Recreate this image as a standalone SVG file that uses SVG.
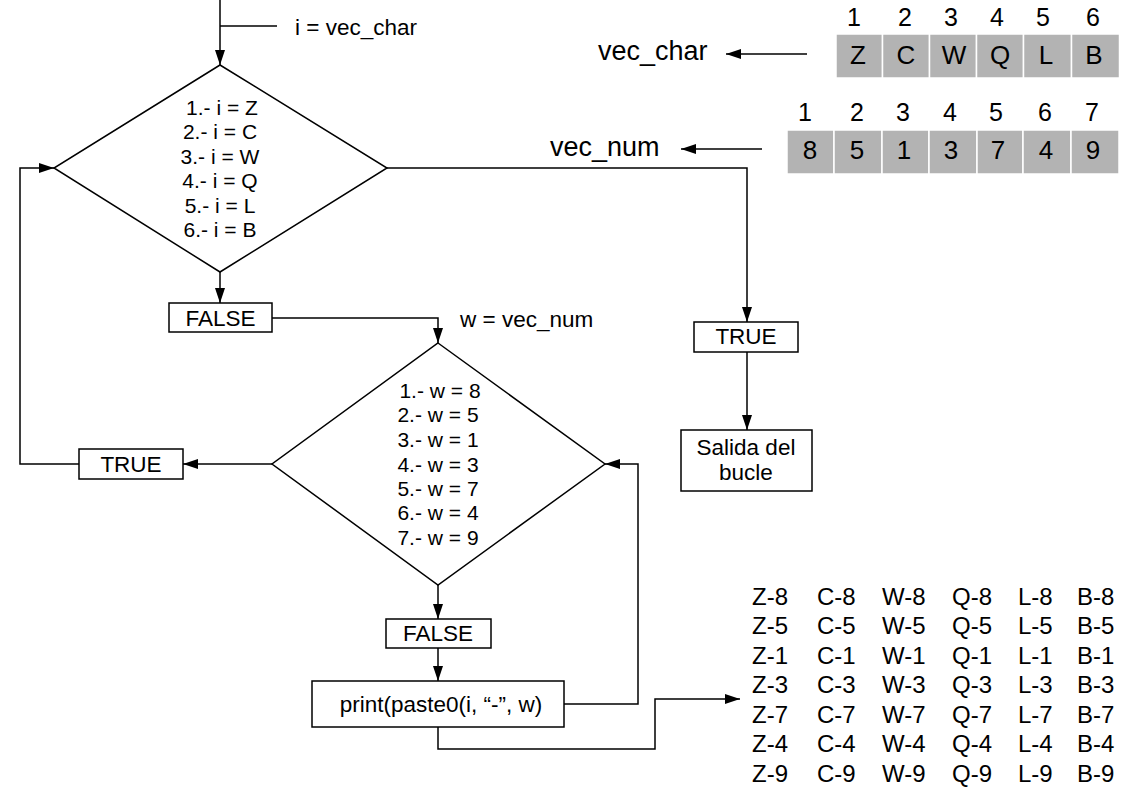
<svg xmlns="http://www.w3.org/2000/svg" width="1123" height="794" viewBox="0 0 1123 794">
<defs>
<marker id="ah" viewBox="0 0 15 10" refX="15" refY="5" markerWidth="15" markerHeight="10" markerUnits="userSpaceOnUse" orient="auto">
<path d="M0,0 L15,5 L0,10 Z" fill="#000"/>
</marker>
<style>
text{font-family:"Liberation Sans",Arial,sans-serif;fill:#000}
.box{fill:#fff;stroke:#000;stroke-width:1.5}
.dia{fill:#fff;stroke:#000;stroke-width:1.5}
.ln{fill:none;stroke:#000;stroke-width:1.5}
.arr{fill:none;stroke:#000;stroke-width:1.5;marker-end:url(#ah)}
.cell{fill:#b3b3b3;stroke:#fff;stroke-width:1.5}
.lbl{font-size:22.5px}
.dt{font-size:21px;text-anchor:middle}
.mid{text-anchor:middle}
.big{font-size:27px}
.ct{font-size:26px;text-anchor:middle}
.ix{font-size:25px;text-anchor:middle}
.out{font-size:24px}
</style>
</defs>
<rect width="1123" height="794" fill="#fff"/>

<g id="connectors">
<path class="arr" d="M220,0 L220,65"/>
<path class="ln" d="M220,26 L277,26"/>
<path class="arr" d="M220,272 L220,303"/>
<path class="arr" d="M272,318 L438,318 L438,343"/>
<path class="arr" d="M272,464 L183,464"/>
<path class="arr" d="M79,464 L20,464 L20,168 L54,168"/>
<path class="arr" d="M438,585 L438,619"/>
<path class="arr" d="M438,648 L438,681"/>
<path class="arr" d="M564,704 L638,704 L638,464 L605,464"/>
<path class="arr" d="M438,727 L438,749 L655,749 L655,699 L740,699"/>
<path class="arr" d="M387,168 L747,168 L747,322"/>
<path class="arr" d="M747,352 L747,430"/>
<path class="arr" d="M807,54 L726,54"/>
<path class="arr" d="M762,149 L681,149"/>
</g>

<g id="label-i">
<text class="lbl" x="295" y="35">i = vec_char</text>
</g>

<g id="diamond1">
<polygon class="dia" points="220,65 387,168 220,272 54,168"/>
<text class="dt" x="222" y="115">1.- i = Z</text>
<text class="dt" x="220" y="139">2.- i = C</text>
<text class="dt" x="220" y="164">3.- i = W</text>
<text class="dt" x="220" y="188">4.- i = Q</text>
<text class="dt" x="220" y="213">5.- i = L</text>
<text class="dt" x="220" y="237">6.- i = B</text>
</g>

<g id="false1">
<rect class="box" x="169" y="303" width="103" height="29"/>
<text class="lbl mid" x="220.5" y="326">FALSE</text>
</g>

<g id="label-w">
<text class="lbl" x="460" y="327">w = vec_num</text>
</g>

<g id="diamond2">
<polygon class="dia" points="438,343 605,464 438,585 272,464"/>
<text class="dt" x="440" y="398">1.- w = 8</text>
<text class="dt" x="438" y="422">2.- w = 5</text>
<text class="dt" x="438" y="447">3.- w = 1</text>
<text class="dt" x="438" y="472">4.- w = 3</text>
<text class="dt" x="438" y="496">5.- w = 7</text>
<text class="dt" x="438" y="520">6.- w = 4</text>
<text class="dt" x="438" y="545">7.- w = 9</text>
</g>

<g id="true-left">
<rect class="box" x="79" y="449" width="104" height="30"/>
<text class="lbl mid" x="131" y="472">TRUE</text>
</g>

<g id="false2">
<rect class="box" x="386" y="619" width="105" height="29"/>
<text class="lbl mid" x="438" y="641">FALSE</text>
</g>

<g id="print">
<rect class="box" x="312" y="681" width="252" height="46"/>
<text class="lbl mid" x="441" y="712">print(paste0(i, “-”, w)</text>
</g>

<g id="true-right">
<rect class="box" x="694" y="322" width="104" height="30"/>
<text class="lbl mid" x="746" y="344">TRUE</text>
</g>

<g id="salida">
<rect class="box" x="681" y="430" width="131" height="61"/>
<text class="lbl mid" x="746" y="455">Salida del</text>
<text class="lbl mid" x="746" y="480">bucle</text>
</g>

<g id="vec_char">
<text class="big" x="598" y="60">vec_char</text>
<rect class="cell" x="836" y="34" width="46.5" height="44"/>
<rect class="cell" x="882.5" y="34" width="47" height="44"/>
<rect class="cell" x="929.5" y="34" width="47" height="44"/>
<rect class="cell" x="976.5" y="34" width="47" height="44"/>
<rect class="cell" x="1023.5" y="34" width="48" height="44"/>
<rect class="cell" x="1071.5" y="34" width="48" height="44"/>
<text class="ct" x="858" y="64">Z</text>
<text class="ct" x="906" y="64">C</text>
<text class="ct" x="954" y="64">W</text>
<text class="ct" x="1000" y="64">Q</text>
<text class="ct" x="1046" y="64">L</text>
<text class="ct" x="1094" y="64">B</text>
<text class="ix" x="854" y="26">1</text>
<text class="ix" x="905" y="26">2</text>
<text class="ix" x="951" y="26">3</text>
<text class="ix" x="997" y="26">4</text>
<text class="ix" x="1043" y="26">5</text>
<text class="ix" x="1093" y="26">6</text>
</g>

<g id="vec_num">
<text class="big" x="550" y="156">vec_num</text>
<rect class="cell" x="787" y="130" width="47" height="44"/>
<rect class="cell" x="834" y="130" width="48" height="44"/>
<rect class="cell" x="882" y="130" width="47" height="44"/>
<rect class="cell" x="929" y="130" width="48" height="44"/>
<rect class="cell" x="977" y="130" width="46" height="44"/>
<rect class="cell" x="1023" y="130" width="48" height="44"/>
<rect class="cell" x="1071" y="130" width="48" height="44"/>
<text class="ct" x="810" y="159">8</text>
<text class="ct" x="857" y="159">5</text>
<text class="ct" x="904" y="159">1</text>
<text class="ct" x="951" y="159">3</text>
<text class="ct" x="998" y="159">7</text>
<text class="ct" x="1046" y="159">4</text>
<text class="ct" x="1093" y="159">9</text>
<text class="ix" x="805" y="121">1</text>
<text class="ix" x="857" y="121">2</text>
<text class="ix" x="903" y="121">3</text>
<text class="ix" x="950" y="121">4</text>
<text class="ix" x="996" y="121">5</text>
<text class="ix" x="1045" y="121">6</text>
<text class="ix" x="1092" y="121">7</text>
</g>

<g id="output" class="out">
<text class="out" x="752" y="605">Z-8</text><text class="out" x="817" y="605">C-8</text><text class="out" x="882" y="605">W-8</text><text class="out" x="952" y="605">Q-8</text><text class="out" x="1018" y="605">L-8</text><text class="out" x="1077" y="605">B-8</text>
<text class="out" x="752" y="634">Z-5</text><text class="out" x="817" y="634">C-5</text><text class="out" x="882" y="634">W-5</text><text class="out" x="952" y="634">Q-5</text><text class="out" x="1018" y="634">L-5</text><text class="out" x="1077" y="634">B-5</text>
<text class="out" x="752" y="664">Z-1</text><text class="out" x="817" y="664">C-1</text><text class="out" x="882" y="664">W-1</text><text class="out" x="952" y="664">Q-1</text><text class="out" x="1018" y="664">L-1</text><text class="out" x="1077" y="664">B-1</text>
<text class="out" x="752" y="693">Z-3</text><text class="out" x="817" y="693">C-3</text><text class="out" x="882" y="693">W-3</text><text class="out" x="952" y="693">Q-3</text><text class="out" x="1018" y="693">L-3</text><text class="out" x="1077" y="693">B-3</text>
<text class="out" x="752" y="723">Z-7</text><text class="out" x="817" y="723">C-7</text><text class="out" x="882" y="723">W-7</text><text class="out" x="952" y="723">Q-7</text><text class="out" x="1018" y="723">L-7</text><text class="out" x="1077" y="723">B-7</text>
<text class="out" x="752" y="752">Z-4</text><text class="out" x="817" y="752">C-4</text><text class="out" x="882" y="752">W-4</text><text class="out" x="952" y="752">Q-4</text><text class="out" x="1018" y="752">L-4</text><text class="out" x="1077" y="752">B-4</text>
<text class="out" x="752" y="782">Z-9</text><text class="out" x="817" y="782">C-9</text><text class="out" x="882" y="782">W-9</text><text class="out" x="952" y="782">Q-9</text><text class="out" x="1018" y="782">L-9</text><text class="out" x="1077" y="782">B-9</text>
</g>
</svg>
